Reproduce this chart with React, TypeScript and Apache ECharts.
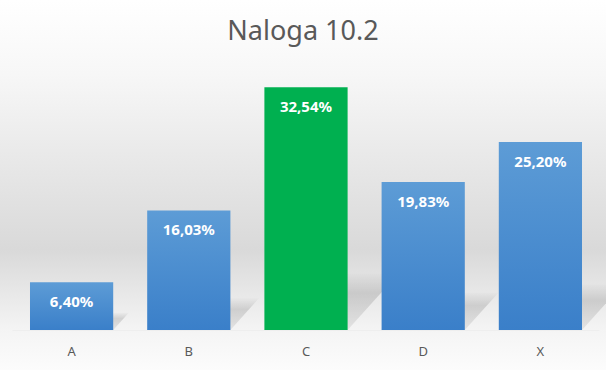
import React, { useEffect, useRef } from "react";
import * as echarts from "echarts";

const categories = ["A", "B", "C", "D", "X"];
const values = [6.4, 16.03, 32.54, 19.83, 25.2];
const highlightIndex = 2;
const titleText = "Naloga 10.2";

const FONT = "'Noto Sans', 'DejaVu Sans', sans-serif";

export default function App() {
  const ref = useRef<HTMLDivElement>(null);
  useEffect(() => {
    if (!ref.current) return;
    const chart = echarts.init(ref.current, undefined, { renderer: "svg" });
    const blueGrad = new echarts.graphic.LinearGradient(0, 0, 0, 1, [
      { offset: 0, color: "#5d9cd6" },
      { offset: 1, color: "#3a7fc9" },
    ]);
    chart.setOption({
      animation: false,
      backgroundColor: new echarts.graphic.LinearGradient(0, 0, 0, 1, [
        { offset: 0, color: "#ffffff" },
        { offset: 0.2, color: "#f7f7f7" },
        { offset: 0.675, color: "#d9d9d9" },
        { offset: 0.89, color: "#f4f4f4" },
        { offset: 1, color: "#fcfcfc" },
      ]),
      title: {
        text: titleText,
        left: "center",
        top: 11,
        textStyle: {
          fontFamily: FONT,
          fontSize: 27,
          fontWeight: "normal",
          color: "#595959",
        },
      },
      grid: { left: 13, right: 7, top: 69, bottom: 40, containLabel: false },
      xAxis: {
        type: "category",
        data: categories,
        axisTick: { show: false },
        axisLine: { show: true, lineStyle: { color: "#eeeeee", width: 1 } },
        axisLabel: {
          margin: 14,
          fontFamily: FONT,
          fontSize: 13,
          color: "#595959",
        },
      },
      yAxis: {
        type: "value",
        min: 0,
        max: 35,
        show: false,
        splitLine: { show: false },
      },
      series: [
        {
          type: "custom",
          z: 1,
          silent: true,
          data: values.map((v, i) => [i, v]),
          renderItem: (params: any, api: any) => {
            const idx = api.value(0);
            const v = api.value(1);
            const top = api.coord([idx, v]);
            const base = api.coord([idx, 0]);
            const band = api.size([1, 0])[0];
            const w = band * 0.71;
            const xl = base[0] - w / 2;
            const xr = base[0] + w / 2;
            const yb = base[1];
            const h = yb - top[1];
            const dy = 0.2 * h + 8;
            const dx = dy * 0.9;
            return {
              type: "polygon",
              shape: {
                points: [
                  [xl, yb],
                  [xr, yb],
                  [xr + dx, yb - dy],
                  [xl + dx, yb - dy],
                ],
              },
              style: {
                fill: new echarts.graphic.LinearGradient(0, 0, 0, 1, [
                  { offset: 0, color: "rgba(0,0,0,0.01)" },
                  { offset: 0.35, color: "rgba(0,0,0,0.13)" },
                  { offset: 1, color: "rgba(0,0,0,0.07)" },
                ]),
              },
            };
          },
        },
        {
          type: "bar",
          z: 2,
          barCategoryGap: "29%",
          data: values.map((v, i) => ({
            value: v,
            itemStyle: { color: i === highlightIndex ? "#00b050" : blueGrad },
          })),
          label: {
            show: true,
            position: "insideTop",
            distance: 11,
            color: "#ffffff",
            fontFamily: FONT,
            fontWeight: "bold",
            fontSize: 15,
            formatter: (p: any) => p.value.toFixed(2).replace(".", ",") + "%",
          },
        },
      ],
    });
    return () => chart.dispose();
  }, []);
  return (
    <div
      ref={ref}
      style={{ position: "absolute", left: 0, top: 0, width: 606, height: 370 }}
    />
  );
}
